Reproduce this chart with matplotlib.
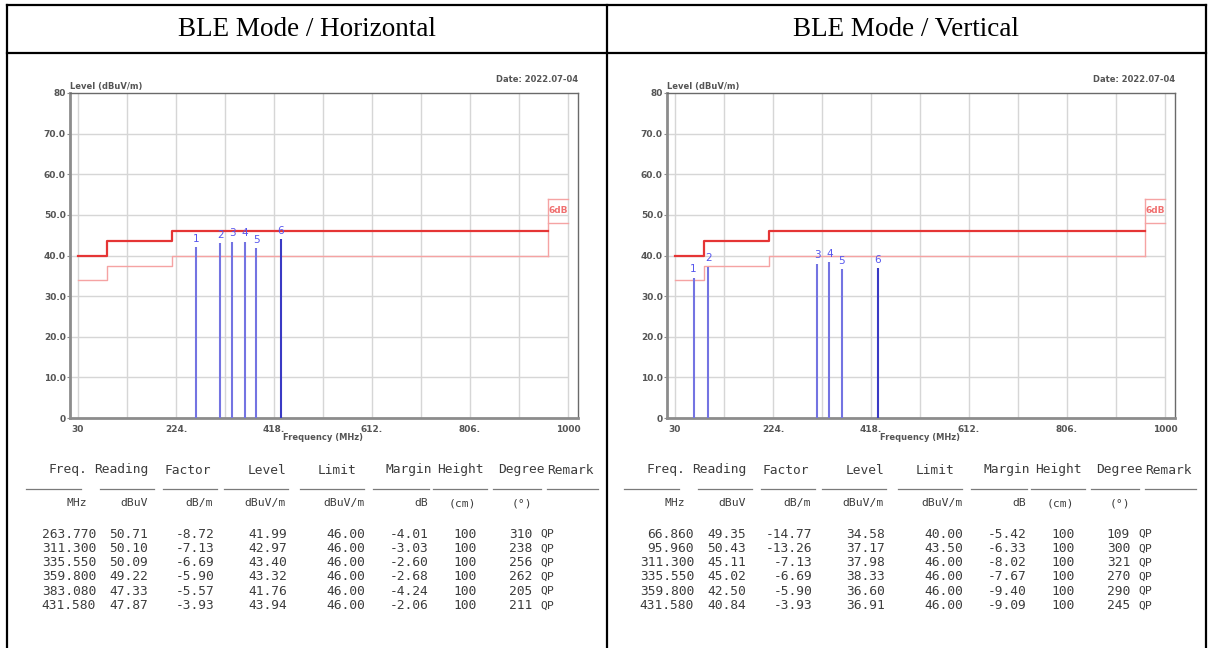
import numpy as np
import matplotlib.pyplot as plt
from matplotlib.lines import Line2D

W, H = 1213, 648

# Peaks, horizontal antenna
h_freq = [263.770, 311.300, 335.550, 359.800, 383.080, 431.580]
h_reading = [50.71, 50.10, 50.09, 49.22, 47.33, 47.87]
h_factor = [-8.72, -7.13, -6.69, -5.90, -5.57, -3.93]
h_level = [41.99, 42.97, 43.40, 43.32, 41.76, 43.94]
h_limit = [46.00, 46.00, 46.00, 46.00, 46.00, 46.00]
h_margin = [-4.01, -3.03, -2.60, -2.68, -4.24, -2.06]
h_height = [100, 100, 100, 100, 100, 100]
h_degree = [310, 238, 256, 262, 205, 211]

# Peaks, vertical antenna
v_freq = [66.860, 95.960, 311.300, 335.550, 359.800, 431.580]
v_reading = [49.35, 50.43, 45.11, 45.02, 42.50, 40.84]
v_factor = [-14.77, -13.26, -7.13, -6.69, -5.90, -3.93]
v_level = [34.58, 37.17, 37.98, 38.33, 36.60, 36.91]
v_limit = [40.00, 43.50, 46.00, 46.00, 46.00, 46.00]
v_margin = [-5.42, -6.33, -8.02, -7.67, -9.40, -9.09]
v_height = [100, 100, 100, 100, 100, 100]
v_degree = [109, 300, 321, 270, 290, 245]

# QP limit (dBuV/m) per band, and the band above 960 MHz
lim_edges = [30, 88, 216, 960]
qp_limit = [40.0, 43.5, 46.0]
hf_edges = [960, 1000]
hf_limit = 54.0
margin_db = 6.0

x_ticks = [30, 224, 418, 612, 806, 1000]
x_ticklabels = ['30', '224.', '418.', '612.', '806.', '1000']
y_ticks = [0, 10, 20, 30, 40, 50, 60, 70, 80]
y_ticklabels = ['0', '10.0', '20.0', '30.0', '40.0', '50.0', '60.0', '70.0', '80']

headers = ['Freq.', 'Reading', 'Factor', 'Level', 'Limit', 'Margin', 'Height', 'Degree']
units = ['MHz', 'dBuV', 'dB/m', 'dBuV/m', 'dBuV/m', 'dB', '(cm)', '(°)']


def fx(px):
    return px / W


def fy(py):
    return 1 - py / H


def line(fig, x0, y0, x1, y1, **kw):
    fig.add_artist(Line2D([fx(x0), fx(x1)], [fy(y0), fy(y1)],
                          transform=fig.transFigure, **kw))


def draw_chart(fig, left, freq, level):
    ax = fig.add_axes([fx(left), fy(418), 508 / W, 325 / H])
    ppm = 49 / 97
    ax.set_xlim(30 - 8 / ppm, 1000 + 10 / ppm)
    ax.set_ylim(0, 80)

    grid_c = '#d6d6d6'
    ax.hlines(range(10, 80, 10), ax.get_xlim()[0], 1000, color=grid_c, lw=1, zorder=1)
    ax.vlines([30 + 97 * k for k in range(11)], 0, 80, color=grid_c, lw=1, zorder=1)

    # limit and limit-6dB lines
    xs = np.repeat(lim_edges, 2)[1:-1]
    ys = np.repeat(qp_limit, 2)
    ax.plot(xs, ys, color='#e53535', lw=1.6, zorder=3)
    ax.plot(xs, ys - margin_db, color='#f5a3a3', lw=1, zorder=2)
    pink = '#f5a3a3'
    ax.plot([hf_edges[0], hf_edges[0]], [qp_limit[-1] - margin_db, hf_limit], color=pink, lw=1, zorder=2)
    ax.plot(hf_edges, [hf_limit, hf_limit], color=pink, lw=1, zorder=2)
    ax.plot(hf_edges, [hf_limit - margin_db] * 2, color=pink, lw=1, zorder=2)
    ax.text(np.mean(hf_edges), hf_limit - margin_db / 2, '6dB', color='#f07070',
            fontsize=6.5, fontweight='bold', ha='center', va='center', zorder=4)

    # peak markers
    n = len(freq)
    for i, (f, lv) in enumerate(zip(freq, level)):
        c = '#3a3ac4' if i == n - 1 else '#7474e2'
        ax.vlines(f, 0, lv, color=c, lw=1.5, zorder=4)
        ax.text(f, lv + 2.1, str(i + 1), color='#5656ee', fontsize=7.5,
                ha='center', va='center', zorder=5)

    for s in ('left', 'bottom'):
        ax.spines[s].set_color('#8c8c8c')
        ax.spines[s].set_linewidth(2)
    for s in ('top', 'right'):
        ax.spines[s].set_color('#6a6a6a')
        ax.spines[s].set_linewidth(1)

    ax.set_xticks(x_ticks)
    ax.set_xticklabels(x_ticklabels)
    ax.set_yticks(y_ticks)
    ax.set_yticklabels(y_ticklabels)
    ax.tick_params(axis='x', length=0, pad=5, labelsize=6.5, labelcolor='#555555')
    ax.tick_params(axis='y', length=2, pad=1, labelsize=6.5, labelcolor='#555555',
                   color='#8c8c8c')
    for t in ax.get_xticklabels() + ax.get_yticklabels():
        t.set_fontweight('bold')

    tf = dict(fontsize=6, fontweight='bold', color='#555555')
    fig.text(fx(left), fy(86), 'Level (dBuV/m)', ha='left', va='center', **tf)
    fig.text(fx(left + 508), fy(79), 'Date: 2022.07-04', ha='right', va='center', **tf)
    fig.text(fx(left + 253), fy(438), 'Frequency (MHz)', ha='center', va='center', **tf)
    return ax


def draw_table(fig, shift, cols):
    mono = dict(family='DejaVu Sans Mono', fontsize=9.3, color='#3c3c3c')
    small = dict(mono, fontsize=8.2)
    head_x = [87, 148, 211, 286, 356, 432, 484, 545]
    unit_x = [87, 148, 213, 286, 365, 428, 476, 532]
    data_x = [96, 148, 214, 287, 365, 428, 477, 532]
    rules = [(26, 81), (100, 154), (163, 217), (224, 288), (300, 364),
             (373, 429), (433, 487), (493, 541), (547, 598)]

    for hx, h in zip(head_x, headers):
        fig.text(fx(hx + shift), fy(470), h, ha='right', va='center', **mono)
    fig.text(fx(547 + shift), fy(470), 'Remark', ha='left', va='center', **mono)
    for a, b in rules:
        line(fig, a + shift, 489, b + shift, 489, color='#7a7a7a', lw=0.9)
    for ux, u in zip(unit_x, units):
        fig.text(fx(ux + shift), fy(503), u, ha='right', va='center', **small)

    fmts = ['{:.3f}', '{:.2f}', '{:.2f}', '{:.2f}', '{:.2f}', '{:.2f}', '{:d}', '{:d}']
    for r in range(len(cols[0])):
        y = 534 + 14.3 * r
        for dx, fmt, col in zip(data_x, fmts, cols):
            fig.text(fx(dx + shift), fy(y), fmt.format(col[r]), ha='right', va='center', **mono)
        fig.text(fx(540 + shift), fy(y), 'QP', ha='left', va='center', **small)


fig = plt.figure(figsize=(W / 100, H / 100), dpi=100)
fig.patch.set_facecolor('white')

# table frame
frame = dict(color='black', lw=1.6)
line(fig, 7, 5, 1206, 5, **frame)
line(fig, 7, 53, 1206, 53, **frame)
line(fig, 7, 5, 7, 648, **frame)
line(fig, 1206, 5, 1206, 648, **frame)
line(fig, 607, 5, 607, 648, **frame)

title_f = dict(family='Liberation Serif', fontsize=19.5, color='black', ha='center', va='center')
fig.text(fx(307), fy(29), 'BLE Mode / Horizontal', **title_f)
fig.text(fx(906), fy(29), 'BLE Mode / Vertical', **title_f)

draw_chart(fig, 70, h_freq, h_level)
draw_chart(fig, 667, v_freq, v_level)

draw_table(fig, 0, [h_freq, h_reading, h_factor, h_level, h_limit, h_margin, h_height, h_degree])
draw_table(fig, 598, [v_freq, v_reading, v_factor, v_level, v_limit, v_margin, v_height, v_degree])

fig.savefig('out.png', dpi=100)
